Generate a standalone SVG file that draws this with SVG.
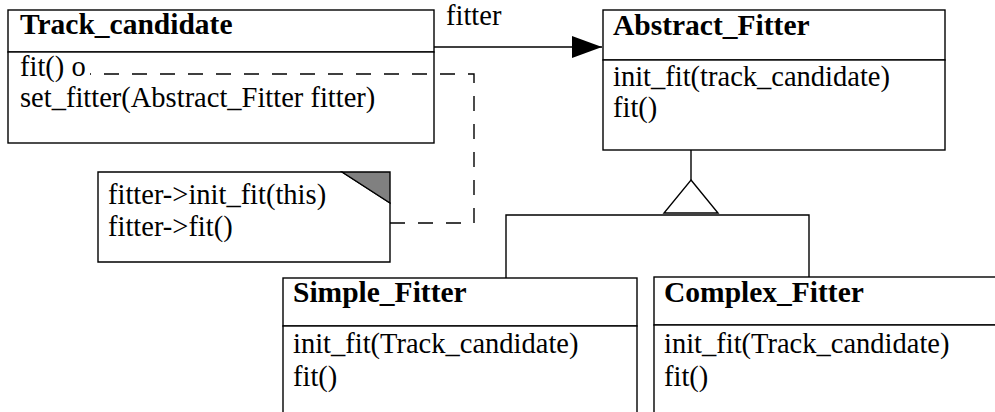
<svg xmlns="http://www.w3.org/2000/svg" width="995" height="412" viewBox="0 0 995 412">
<style>
  .box { fill: #fff; stroke: #000; stroke-width: 1.4; }
  .ln { fill: none; stroke: #000; stroke-width: 1.4; }
  .dash { fill: none; stroke: #000; stroke-width: 1.4; stroke-dasharray: 15 13; }
  text { font-family: 'Liberation Serif', 'Times New Roman', Times, serif; font-size: 28.5px; fill: #000; }
  .b { font-weight: bold; font-size: 29.5px; }
</style>
<defs>
  <marker id="arrow" markerUnits="userSpaceOnUse" markerWidth="32" markerHeight="24" refX="30" refY="11" orient="auto">
    <path d="M0,0 L30,11 L0,22 Z" fill="#000"/>
  </marker>
</defs>
<rect width="995" height="412" fill="#fff"/>

<g id="track_candidate">
  <rect class="box" x="8" y="10" width="426" height="42"/>
  <rect class="box" x="8" y="52" width="426" height="91"/>
  <text class="b" x="20" y="34" font-family="Liberation Serif, serif">Track_candidate</text>
  <text x="20" y="76" font-family="Liberation Serif, serif">fit() o</text>
  <text x="20" y="107" font-family="Liberation Serif, serif">set_fitter(Abstract_Fitter fitter)</text>
</g>

<g id="abstract_fitter">
  <rect class="box" x="603" y="10" width="342" height="50"/>
  <rect class="box" x="603" y="60" width="342" height="90"/>
  <text class="b" x="613" y="35" font-family="Liberation Serif, serif">Abstract_Fitter</text>
  <text x="613" y="86" font-family="Liberation Serif, serif">init_fit(track_candidate)</text>
  <text x="613" y="117" font-family="Liberation Serif, serif">fit()</text>
</g>

<g id="note">
  <path class="box" d="M98,172 H342 L390,203 V262 H98 Z"/>
  <path d="M342,172 H390 V203 Z" fill="#808080" stroke="#000" stroke-width="1.4"/>
  <text x="108" y="204" font-family="Liberation Serif, serif">fitter-&gt;init_fit(this)</text>
  <text x="108" y="236" font-family="Liberation Serif, serif">fitter-&gt;fit()</text>
</g>

<g id="simple_fitter">
  <rect class="box" x="283" y="278" width="354" height="48"/>
  <rect class="box" x="283" y="326" width="354" height="100"/>
  <text class="b" x="293" y="302" font-family="Liberation Serif, serif">Simple_Fitter</text>
  <text x="293" y="353" font-family="Liberation Serif, serif">init_fit(Track_candidate)</text>
  <text x="293" y="386" font-family="Liberation Serif, serif">fit()</text>
</g>

<g id="complex_fitter">
  <rect class="box" x="654" y="277" width="354" height="48"/>
  <rect class="box" x="654" y="325" width="354" height="100"/>
  <text class="b" x="664" y="302" font-family="Liberation Serif, serif">Complex_Fitter</text>
  <text x="664" y="353" font-family="Liberation Serif, serif">init_fit(Track_candidate)</text>
  <text x="664" y="386" font-family="Liberation Serif, serif">fit()</text>
</g>

<g id="connectors">
  <line class="ln" x1="434" y1="47" x2="602" y2="47" marker-end="url(#arrow)"/>
  <text x="446" y="25" font-family="Liberation Serif, serif">fitter</text>
  <path class="dash" d="M390,223 H474 V74 H90"/>
  <line class="ln" x1="691" y1="150" x2="691" y2="180"/>
  <path class="box" d="M691,180 L718,213 L664,213 Z"/>
  <path class="ln" d="M506,278 V215 H809 V277"/>
</g>
</svg>
